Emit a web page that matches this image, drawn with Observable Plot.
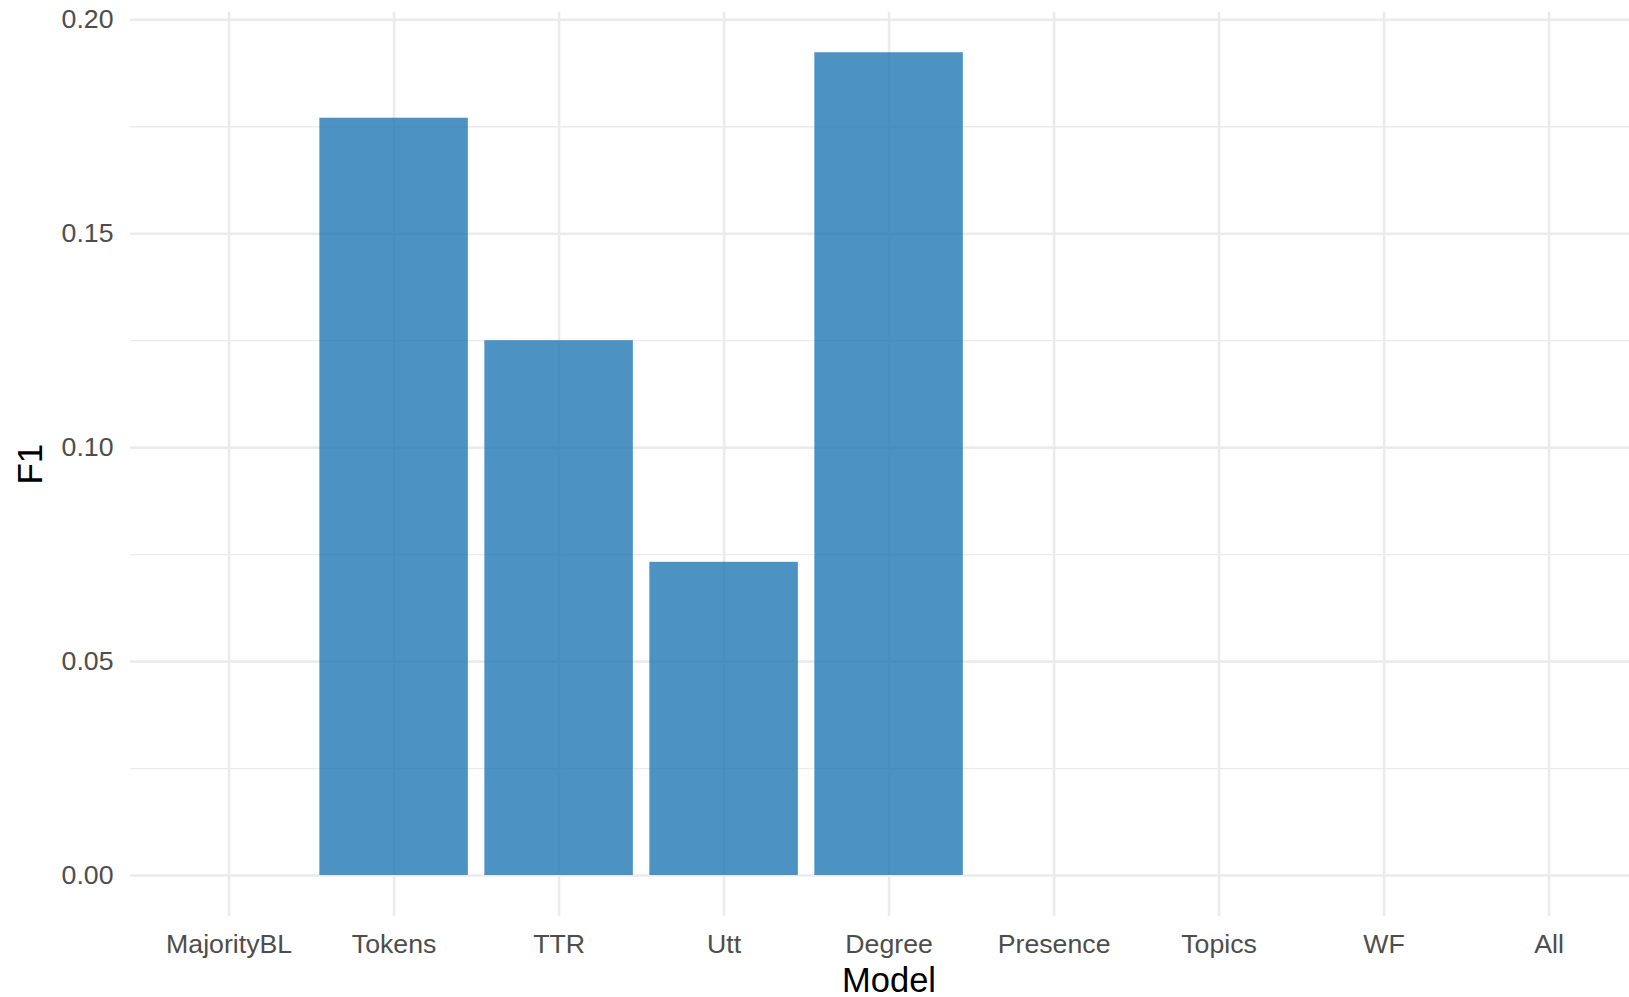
<!DOCTYPE html>
<html>
<head>
<meta charset="utf-8">
<script src="https://cdn.jsdelivr.net/npm/d3@7"></script>
<script src="https://cdn.jsdelivr.net/npm/@observablehq/plot@0.6"></script>
<style>
  html, body { margin: 0; padding: 0; background: #fff; }
  #chart svg { display: block; }
</style>
</head>
<body>
<div id="chart"></div>
<script>
const models = ["MajorityBL", "Tokens", "TTR", "Utt", "Degree", "Presence", "Topics", "WF", "All"];
const f1 = [0, 0.177, 0.125, 0.0732, 0.1923, 0, 0, 0, 0];
const majorTicks = [0, 0.05, 0.10, 0.15, 0.20];
const minorTicks = [0.025, 0.075, 0.125, 0.175];

const data = models.map((m, i) => ({Model: m, F1: f1[i]}));

const W = 1629, H = 997;
const font = "'Liberation Sans', Arial, Helvetica, sans-serif";

const chart = Plot.plot({
  width: W,
  height: H,
  marginLeft: 130,
  marginRight: 0,
  marginTop: 11.7,
  marginBottom: 81.3,
  style: {fontFamily: font, background: "#fff", overflow: "visible"},
  x: {domain: models, range: [129.6, 1647.6], paddingInner: 0.1, paddingOuter: 0.15, align: 0.5, round: false, label: null},
  y: {domain: [0, 0.2], range: [875, 19.3], label: null},
  marks: [
    Plot.ruleY(minorTicks, {stroke: "#ebebeb", strokeWidth: 1.3}),
    Plot.ruleY(majorTicks, {stroke: "#ebebeb", strokeWidth: 2.6}),
    Plot.gridX({stroke: "#ebebeb", strokeOpacity: 1, strokeWidth: 2.6}),
    Plot.barY(data, {x: "Model", y: "F1", fill: "#1f77b4", fillOpacity: 0.8}),
    Plot.axisY({ticks: majorTicks, tickFormat: d3.format(".2f"), tickSize: 0, tickPadding: 17,
                fontSize: 26.7, fill: "#4d4d4d", label: null}),
    Plot.axisX({tickSize: 0, tickPadding: 18, fontSize: 26.7, fill: "#4d4d4d", label: null}),
    Plot.text(["F1"], {frameAnchor: "left", textAnchor: "middle", lineAnchor: "middle", rotate: -90, dx: -100, fontSize: 35, fill: "#000"}),
    Plot.text(["Model"], {frameAnchor: "bottom", textAnchor: "middle", lineAnchor: "middle", dx: 9, dy: 64.5, fontSize: 34.5, fill: "#000"})
  ]
});
document.getElementById("chart").appendChild(chart);
</script>
</body>
</html>
